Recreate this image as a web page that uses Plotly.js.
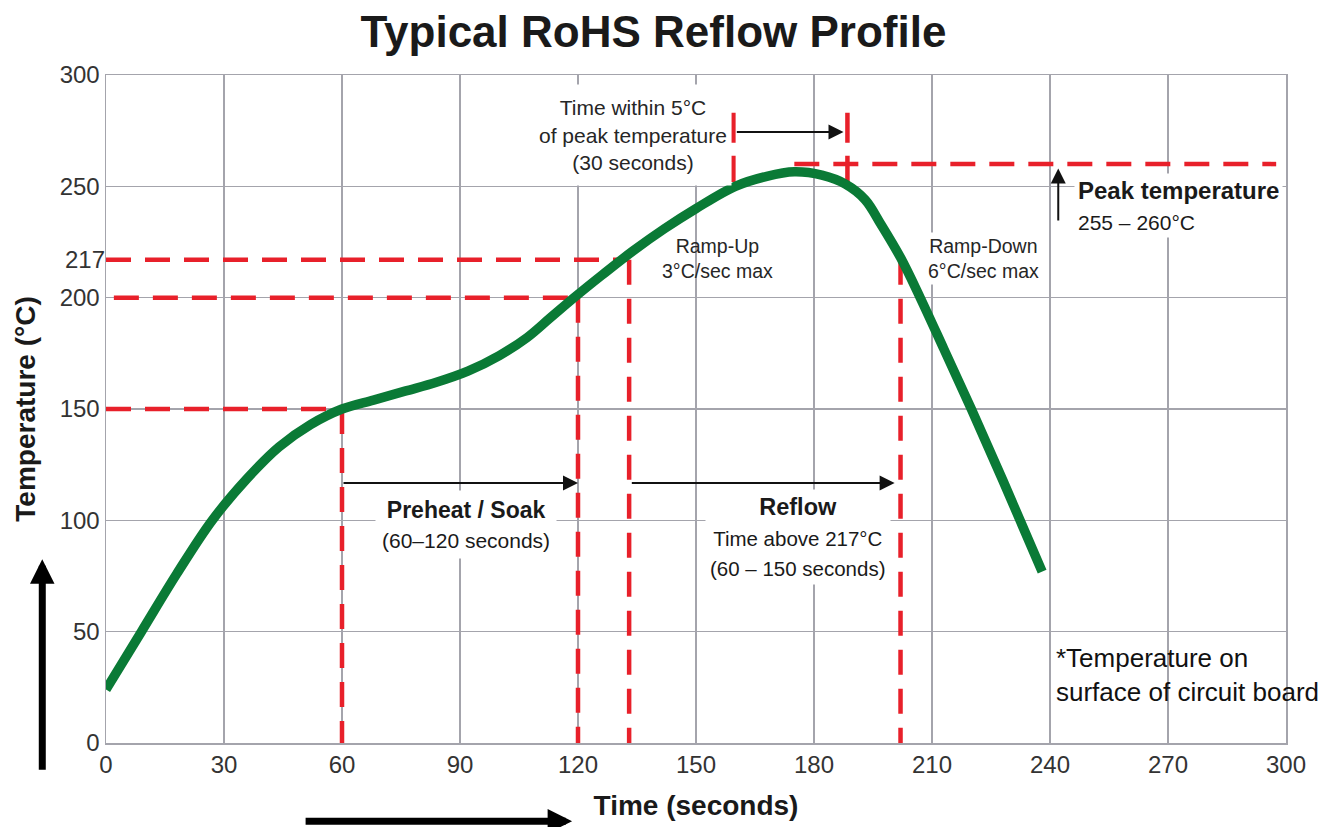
<!DOCTYPE html>
<html>
<head>
<meta charset="utf-8">
<script src="https://cdn.plot.ly/plotly-3.0.1.min.js"></script>
<style>html,body{margin:0;padding:0;background:#fff;}#chart{width:1339px;height:827px;}</style>
</head>
<body>
<div id="chart"></div>
<script>
// ---- data ----
const time = [0, 9, 18, 27, 36, 44, 52, 60, 68, 76, 84, 92, 100, 107, 113, 119, 126, 134, 142, 150, 160, 168, 175, 182, 188, 193, 197, 202, 207, 213, 220, 228, 238];
const temp = [24, 50, 76, 100, 119, 133, 143, 150, 154, 158, 162, 167, 174, 182, 191, 200, 210, 221, 231, 240, 250, 254.5, 256.5, 255, 251, 244, 233, 218, 200, 177, 150, 118, 77];

const thresholdTemps = [150, 200, 217];   // horizontal guides
const thresholdStart = [0, 2, 0];
const thresholdTimes = [60, 120, 133];    // where they meet the curve
const reflowEnd = 202;                    // curve falls back below 217°C
const peakTemp = 260;
const peakLine = [175, 297.5];
const peakWindow = [159.5, 188.5];        // within 5°C of peak
const peakWindowTemps = [283, 252];
const arrowTempLow = 116.8;
const arrowTempTop = 274.4;

const xTicks = [0, 30, 60, 90, 120, 150, 180, 210, 240, 270, 300];
const yTicks = [0, 50, 100, 150, 200, 250, 300];
const yExtraTick = [217];

// ---- styling ----
const RED = '#e8202a';
const GREEN = '#0a7a36';
const GRID = '#a4a4ac';
const SANS = 'Liberation Sans, Arial, Helvetica, sans-serif';
const dashStyle = {color: RED, width: 4.5, dash: '25px,14px'};

const traces = [];
thresholdTemps.forEach((t, i) => {
  traces.push({x: [thresholdStart[i], thresholdTimes[i]], y: [t, t], mode: 'lines', line: dashStyle, hoverinfo: 'skip'});
  traces.push({x: [thresholdTimes[i], thresholdTimes[i]], y: [t, 0], mode: 'lines', line: dashStyle, hoverinfo: 'skip'});
});
traces.push({x: [reflowEnd, reflowEnd], y: [thresholdTemps[2], 0], mode: 'lines', line: dashStyle, hoverinfo: 'skip'});
traces.push({x: peakLine, y: [peakTemp, peakTemp], mode: 'lines', line: dashStyle, hoverinfo: 'skip'});
peakWindow.forEach(t => {
  traces.push({x: [t, t], y: peakWindowTemps, mode: 'lines', line: {color: RED, width: 4.5, dash: '30px,13px'}, hoverinfo: 'skip'});
});
traces.push({x: time, y: temp, mode: 'lines', line: {color: GREEN, width: 9.5, shape: 'spline', smoothing: 1}, hoverinfo: 'skip'});
traces.push({x: [null], y: [null], yaxis: 'y2', mode: 'lines', hoverinfo: 'skip'});

const txt = (text, x, y, size, opts = {}) => Object.assign({
  text, x, y, xref: 'x', yref: 'y', showarrow: false,
  font: {family: SANS, size, color: '#262626'},
  bgcolor: '#ffffff', borderpad: 3, xanchor: 'center', yanchor: 'middle'
}, opts);

const arrow = (x, y, ax, ay) => ({
  x, y, ax, ay, xref: 'x', yref: 'y', axref: 'x', ayref: 'y', text: '',
  showarrow: true, arrowhead: 2, arrowsize: 1.5, arrowwidth: 2, arrowcolor: '#111'
});

const annotations = [
  txt('Time within 5°C<br>of peak temperature<br>(30 seconds)', 134, 273, 21, {height: 92, borderpad: 4}),
  txt('Ramp-Up<br>3°C/sec max', 155.5, 217.5, 19.5, {borderpad: 0, bgcolor: 'rgba(0,0,0,0)'}),
  txt('Ramp-Down<br>6°C/sec max', 223, 217.5, 19.5, {borderpad: 2}),
  txt('<b>Peak temperature</b><br><span style="font-size:21px">255 – 260°C</span>', 246, 241.2, 24,
      {xanchor: 'left', align: 'left', borderpad: 3, font: {family: SANS, size: 24, color: '#1a1a1a'}}),
  txt('<b>Preheat / Soak</b><br><span style="font-size:21px">(60–120 seconds)</span>', 91.5, 98.2, 23,
      {borderpad: 6, font: {family: SANS, size: 23, color: '#1a1a1a'}}),
  txt('<b>Reflow</b><br><span style="font-size:20.5px">Time above 217°C</span><br><span style="font-size:20.5px">(60 – 150 seconds)</span>', 175.9, 92.6, 23.5,
      {borderpad: 4, font: {family: SANS, size: 23.5, color: '#1a1a1a'}}),
  txt('*Temperature on<br>surface of circuit board', 241.2, 30.5, 26,
      {xanchor: 'left', align: 'left', bgcolor: 'rgba(0,0,0,0)', borderpad: 0, font: {family: SANS, size: 26, color: '#111'}}),
  arrow(thresholdTimes[1], arrowTempLow, thresholdTimes[0], arrowTempLow),
  arrow(reflowEnd - 1.5, arrowTempLow, thresholdTimes[2] + 0.3, arrowTempLow),
  arrow(peakWindow[1] - 1, arrowTempTop, peakWindow[0] + 0.5, arrowTempTop),
  arrow(242.1, peakTemp - 2, 242.1, 234),
  {x: -0.054, y: 0.275, xref: 'paper', yref: 'paper', ax: 0, ay: 212, axref: 'pixel', ayref: 'pixel', text: '', showarrow: true, arrowhead: 2, arrowsize: 0.7, arrowwidth: 7, arrowcolor: '#000'},
  {x: 0.395, y: -0.117, xref: 'paper', yref: 'paper', ax: -268, ay: 0, axref: 'pixel', ayref: 'pixel', text: '', showarrow: true, arrowhead: 2, arrowsize: 0.7, arrowwidth: 7, arrowcolor: '#000'}
];

const axisCommon = {
  showgrid: true, gridcolor: GRID, gridwidth: 1.5, zeroline: false,
  showline: true, linecolor: GRID, linewidth: 1.5, mirror: true,
  ticks: '', tickfont: {family: SANS, size: 24, color: '#333'}, fixedrange: true
};

const layout = {
  width: 1339, height: 827,
  margin: {l: 106, r: 53, t: 75, b: 84},
  paper_bgcolor: '#fff', plot_bgcolor: '#fff',
  showlegend: false,
  title: {text: '<b>Typical RoHS Reflow Profile</b>', x: 0.488, xanchor: 'center', y: 0.962, yanchor: 'middle',
          font: {family: SANS, size: 44, color: '#1a1a1a'}},
  xaxis: Object.assign({}, axisCommon, {range: [0, 300], tickvals: xTicks, ticktext: xTicks.map(String),
          title: {text: '<b>Time (seconds)</b>', standoff: 18, font: {family: SANS, size: 28, color: '#1a1a1a'}}}),
  yaxis: Object.assign({}, axisCommon, {range: [0, 300], tickvals: yTicks, ticktext: yTicks.map(String), ticklabelstandoff: 0,
          title: {text: '<b>Temperature (°C)</b>', standoff: 16, font: {family: SANS, size: 28, color: '#1a1a1a'}}}),
  yaxis2: {overlaying: 'y', side: 'left', range: [0, 300], tickvals: yExtraTick, ticktext: yExtraTick.map(String),
           showgrid: false, zeroline: false, showline: false, ticks: '', ticklabelstandoff: 0,
           tickfont: {family: SANS, size: 24, color: '#333'}, fixedrange: true},
  annotations
};

Plotly.newPlot('chart', traces, layout, {staticPlot: true, displayModeBar: false});
</script>
</body>
</html>
